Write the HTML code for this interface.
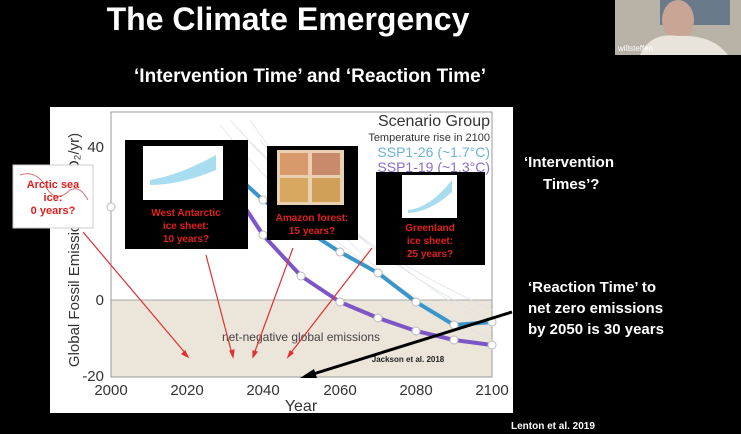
<!DOCTYPE html>
<html><head><style>
body{margin:0;background:#000;width:741px;height:434px;overflow:hidden}
svg{display:block}
text{font-family:"Liberation Sans",Arial,sans-serif}
</style></head><body>
<svg width="741" height="434" viewBox="0 0 741 434">
<rect width="741" height="434" fill="#000"/>
<text x="288" y="30" font-size="32" font-weight="bold" fill="#fff" text-anchor="middle">The Climate Emergency</text>
<text x="310" y="82" font-size="19" font-weight="bold" fill="#fff" text-anchor="middle">‘Intervention Time’ and ‘Reaction Time’</text>
<!-- webcam -->
<rect x="615" y="0" width="126" height="55" fill="#b9b2a6"/>
<rect x="660" y="0" width="70" height="25" fill="#6b7a8a"/>
<ellipse cx="678" cy="20" rx="16" ry="20" fill="#c9a595"/>
<path d="M640 55 Q650 32 678 36 Q712 34 728 55Z" fill="#e8e4dc"/>
<text x="618" y="51" font-size="8" fill="#fff">willsteffen</text>
<!-- chart panel -->
<rect x="50" y="107" width="463" height="306" fill="#fff"/>
<rect x="111" y="300" width="381" height="77" fill="#ebe5da"/>
<line x1="111" y1="300" x2="492" y2="300" stroke="#aaa" stroke-width="1"/>
<rect x="111" y="112" width="381" height="265" fill="none" stroke="#999" stroke-width="1"/>
<g stroke="#dfe3ea" stroke-width="1" fill="none" opacity="0.8">
<path d="M230 120 Q300 200 492 330"/><path d="M240 130 Q320 230 492 310"/><path d="M220 125 Q330 260 492 340"/>
<path d="M260 140 Q350 250 492 320"/><path d="M250 120 Q360 280 492 350"/>
</g>
<g font-size="15" fill="#333">
<text x="104" y="152" text-anchor="end">40</text>
<text x="104" y="305" text-anchor="end">0</text>
<text x="104" y="381" text-anchor="end">-20</text>
<text x="111" y="395" text-anchor="middle">2000</text>
<text x="187" y="395" text-anchor="middle">2020</text>
<text x="263" y="395" text-anchor="middle">2040</text>
<text x="340" y="395" text-anchor="middle">2060</text>
<text x="416" y="395" text-anchor="middle">2080</text>
<text x="492" y="395" text-anchor="middle">2100</text>
<text x="301" y="411" font-size="16" text-anchor="middle">Year</text>
<text transform="translate(79,250) rotate(-90)" text-anchor="middle" font-size="15">Global Fossil Emissions (GtCO₂/yr)</text>
</g>
<text x="490" y="126" font-size="16" fill="#333" text-anchor="end">Scenario Group</text>
<text x="490" y="141" font-size="11" fill="#333" text-anchor="end">Temperature rise in 2100</text>
<text x="490" y="157" font-size="14" fill="#6ab4d8" text-anchor="end">SSP1-26 (~1.7°C)</text>
<text x="490" y="172" font-size="14" fill="#8a6cc8" text-anchor="end">SSP1-19 (~1.3°C)</text>
<text x="301" y="341" font-size="12" fill="#444" text-anchor="middle">net-negative global emissions</text>
<text x="408" y="362" font-size="8" font-weight="bold" fill="#222" text-anchor="middle">Jackson et al. 2018</text>
<!-- curves -->
<path d="M230 170 L263 200 L301 227 L340 252 L378 273 L416 302 L454 325 L492 322" fill="none" stroke="#3a96c8" stroke-width="4"/>
<path d="M240 200 L263 235 L301 276 L340 302 L378 318 L416 331 L454 340 L492 345" fill="none" stroke="#7c55c6" stroke-width="4"/>
<g fill="#fff" stroke="#bbb" stroke-width="1">
<circle cx="263" cy="200" r="4"/><circle cx="301" cy="227" r="4"/><circle cx="340" cy="252" r="4"/><circle cx="378" cy="273" r="4"/><circle cx="416" cy="302" r="4"/><circle cx="454" cy="325" r="4"/><circle cx="492" cy="322" r="4"/>
<circle cx="263" cy="235" r="4"/><circle cx="301" cy="276" r="4"/><circle cx="340" cy="302" r="4"/><circle cx="378" cy="318" r="4"/><circle cx="416" cy="331" r="4"/><circle cx="454" cy="340" r="4"/><circle cx="492" cy="345" r="4"/>
<circle cx="111" cy="207" r="4"/>
</g>
<!-- red arrows -->
<g stroke="#e03030" stroke-width="1.2" fill="#e03030">
<line x1="83" y1="232" x2="186" y2="354"/><path d="M188 357 l-6 -3 l3 -3z"/>
<line x1="206" y1="255" x2="232" y2="354"/><path d="M233 357 l-3 -6 l4 -1z"/>
<line x1="293" y1="248" x2="254" y2="354"/><path d="M253 357 l0 -6 l4 1z"/>
<line x1="372" y1="248" x2="290" y2="354"/><path d="M288 357 l2 -6 l3 2z"/>
</g>
<!-- black arrow -->
<line x1="512" y1="312" x2="310" y2="375" stroke="#000" stroke-width="3"/>
<path d="M300 378 l14 -9 l3 9z" fill="#000"/>
<!-- boxes -->
<rect x="13" y="165" width="80" height="63" fill="#fff" stroke="#ccc"/>
<path d="M20 175 Q35 170 45 185 Q55 205 70 190 Q80 185 88 200" fill="none" stroke="#c77" stroke-width="1"/>
<text x="53" y="188" font-size="11" font-weight="bold" fill="#e02020" text-anchor="middle">Arctic sea</text>
<text x="53" y="201" font-size="11" font-weight="bold" fill="#e02020" text-anchor="middle">ice:</text>
<text x="53" y="214" font-size="11" font-weight="bold" fill="#e02020" text-anchor="middle">0 years?</text>

<rect x="125" y="140" width="123" height="109" fill="#000"/>
<rect x="143" y="146" width="80" height="54" fill="#fff"/>
<path d="M150 180 Q180 175 216 155 L216 170 Q180 185 150 185Z" fill="#a8dcef"/>
<g font-size="10" font-weight="bold" fill="#e02020" text-anchor="middle">
<text x="186" y="216">West Antarctic</text><text x="186" y="229">ice sheet:</text><text x="186" y="242">10 years?</text>
</g>
<rect x="267" y="146" width="91" height="94" fill="#000"/>
<rect x="277" y="150" width="67" height="55" fill="#e8d0b0"/>
<rect x="280" y="153" width="28" height="22" fill="#d89a6a"/><rect x="312" y="153" width="28" height="22" fill="#c88a6a"/>
<rect x="280" y="178" width="28" height="24" fill="#d8a860"/><rect x="312" y="178" width="28" height="24" fill="#d0a058"/>
<g font-size="10" font-weight="bold" fill="#e02020" text-anchor="middle">
<text x="312" y="221">Amazon forest:</text><text x="312" y="234">15 years?</text>
</g>
<rect x="376" y="172" width="109" height="93" fill="#000"/>
<rect x="402" y="175" width="55" height="43" fill="#fff"/>
<path d="M408 210 Q430 208 452 180 L452 192 Q430 212 408 213Z" fill="#a8dcef"/>
<g font-size="10" font-weight="bold" fill="#e02020" text-anchor="middle">
<text x="430" y="231">Greenland</text><text x="430" y="244">ice sheet:</text><text x="430" y="257">25 years?</text>
</g>
<!-- right texts -->
<g font-size="15" font-weight="bold" fill="#fff">
<text x="524" y="167">‘Intervention</text>
<text x="543" y="189">Times’?</text>
<text x="528" y="292">‘Reaction Time’ to</text>
<text x="528" y="313">net zero emissions</text>
<text x="528" y="334">by 2050 is 30 years</text>
</g>
<text x="511" y="429" font-size="10" font-weight="bold" fill="#fff">Lenton et al. 2019</text>
</svg>
</body></html>
